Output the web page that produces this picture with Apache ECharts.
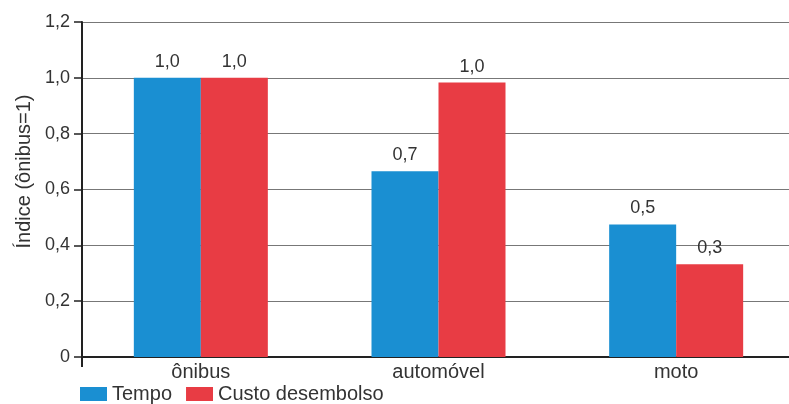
<!DOCTYPE html>
<html>
<head>
<meta charset="utf-8">
<script src="https://cdn.jsdelivr.net/npm/echarts@6/dist/echarts.min.js"></script>
<style>
html,body{margin:0;padding:0;background:#fff;}
#chart{width:789px;height:404px;}
</style>
</head>
<body>
<div id="chart"></div>
<script>
const categories = ['ônibus', 'automóvel', 'moto'];
const seriesNames = ['Tempo', 'Custo desembolso'];
const tempo = [1.0, 0.665, 0.475];
const custo = [1.0, 0.983, 0.332];
const yTicks = [0, 0.2, 0.4, 0.6, 0.8, 1.0, 1.2];

const fmt = v => (v === 0 ? '0' : v.toFixed(1).replace('.', ','));
const font = 'Liberation Sans, Arial, Helvetica, sans-serif';

const chart = echarts.init(document.getElementById('chart'));
chart.setOption({
  animation: false,
  backgroundColor: '#ffffff',
  grid: { left: 82, right: -6, top: 22, bottom: 47, outerBoundsMode: 'none' },
  legend: {
    left: 80, top: 384, padding: 0,
    itemWidth: 27, itemHeight: 14, itemGap: 14,
    icon: 'rect',
    textStyle: { fontFamily: font, fontSize: 20, color: '#333' },
    data: seriesNames
  },
  xAxis: {
    type: 'category',
    data: categories,
    axisLine: { lineStyle: { color: '#222', width: 2 } },
    axisTick: { show: true, length: 10, interval: (i) => i === 0, lineStyle: { color: '#222', width: 2 } },
    axisLabel: { fontFamily: font, fontSize: 20, color: '#333', margin: 5 }
  },
  yAxis: {
    type: 'value',
    min: 0, max: yTicks[yTicks.length - 1], interval: 0.2,
    name: 'Índice (ônibus=1)',
    nameLocation: 'middle',
    nameGap: 48,
    nameTextStyle: { fontFamily: font, fontSize: 20, color: '#333', padding: [0, 0, 0, 36] },
    axisLine: { show: true, lineStyle: { color: '#222', width: 2 } },
    axisTick: { show: true, length: 8, lineStyle: { color: '#222', width: 1.5 } },
    axisLabel: { fontFamily: font, fontSize: 18, color: '#333', margin: 12, formatter: v => fmt(v) },
    splitLine: { show: true, lineStyle: { color: '#777', width: 1.2 } }
  },
  series: [
    {
      name: seriesNames[0], type: 'bar', data: tempo,
      barWidth: 67, barGap: '0%',
      itemStyle: { color: '#1a8fd2' },
      label: { show: true, position: 'top', distance: 7, fontFamily: font, fontSize: 18, color: '#333', formatter: p => fmt(p.value) }
    },
    {
      name: seriesNames[1], type: 'bar', data: custo,
      barWidth: 67, barGap: '0%',
      itemStyle: { color: '#e83c44' },
      label: { show: true, position: 'top', distance: 7, fontFamily: font, fontSize: 18, color: '#333', formatter: p => fmt(p.value) }
    }
  ]
});
</script>
</body>
</html>
